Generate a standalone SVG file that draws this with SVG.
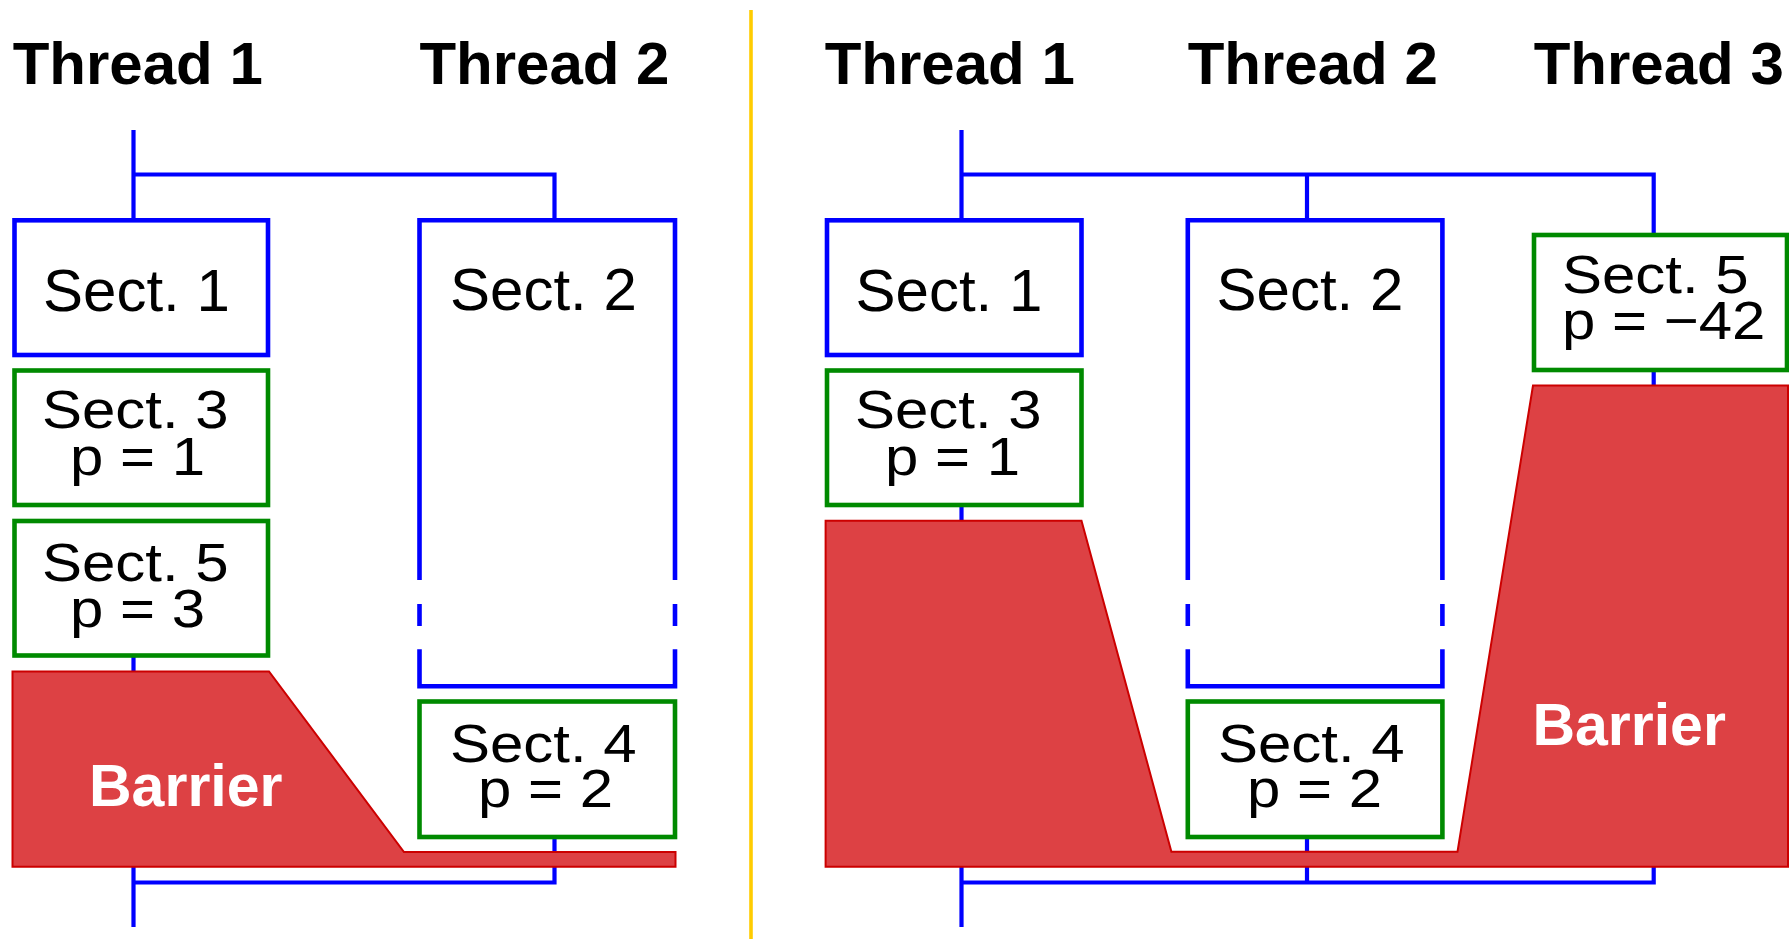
<svg xmlns="http://www.w3.org/2000/svg" width="1789" height="939" viewBox="0 0 1789 939">
<style>
.hdr{font-family:"Liberation Sans",Arial,sans-serif;font-weight:bold;font-size:60px;fill:#000}
.lbl{font-family:"Liberation Sans",Arial,sans-serif;font-size:60px;fill:#000}
.bar{font-family:"Liberation Sans",Arial,sans-serif;font-weight:bold;font-size:59px;fill:#fff}
.conn{fill:none;stroke:#0000FF;stroke-width:4.2}
.bbox{fill:#fff;stroke:#0000FF;stroke-width:4.6}
.bopen{fill:none;stroke:#0000FF;stroke-width:4.6}
.gbox{fill:#fff;stroke:#008A00;stroke-width:4.6}
.barrier{fill:#DD4144;stroke:#CC0000;stroke-width:2}
</style>
<rect width="1789" height="939" fill="#fff"/>
<line x1="751" y1="10" x2="751" y2="939" stroke="#FFCC00" stroke-width="3.6"/>

<g id="headers">
<text class="hdr" x="12.7" y="84">Thread 1</text>
<text class="hdr" x="419.4" y="84">Thread 2</text>
<text class="hdr" x="824.7" y="84">Thread 1</text>
<text class="hdr" x="1187.7" y="84">Thread 2</text>
<text class="hdr" x="1533.7" y="84">Thread 3</text>
</g>

<g id="connectors">
<path class="conn" d="M133.5,130 V220 M133.5,174.5 H554.5 V220"/>
<path class="conn" d="M133.5,655 V672"/>
<path class="conn" d="M133.5,866 V927 M133.5,882.5 H554.5 V837"/>
<path class="conn" d="M961.5,130 V220 M961.5,174.5 H1653.7 V235 M1307,174.5 V220"/>
<path class="conn" d="M961.5,505 V521"/>
<path class="conn" d="M1653.7,370 V386"/>
<path class="conn" d="M961.5,866 V927 M961.5,882.5 H1653.7 V866 M1307,837 V882.5"/>
</g>

<g id="barrier-left">
<polygon class="barrier" points="12.5,671.5 269,671.5 404,852 675.5,852 675.5,866.7 12.5,866.7"/>
<text class="bar" x="89" y="805.7">Barrier</text>
</g>

<g id="barrier-right">
<polygon class="barrier" points="825.6,520.7 1081.5,520.7 1171.4,851.7 1457.5,851.7 1533,385.5 1788,385.5 1788,866.7 825.6,866.7"/>
<text class="bar" x="1532.4" y="745">Barrier</text>
</g>

<g id="L-sect1">
<rect class="bbox" x="14.5" y="220.3" width="253.5" height="134.7"/>
<text class="lbl" x="43" y="311">Sect. 1</text>
</g>
<g id="L-sect2">
<path class="bopen" d="M419.5,580 V220.3 H675 V580"/>
<path class="bopen" d="M419.5,604 V626 M675,604 V626"/>
<path class="bopen" d="M419.5,649.3 V686.3 H675 V649.3"/>
<text class="lbl" x="450" y="310">Sect. 2</text>
</g>
<g id="L-sect3">
<rect class="gbox" x="14.5" y="370.5" width="253.5" height="134.5"/>
<text class="lbl" transform="translate(0,428.3) scale(1,0.9)"><tspan x="42" y="0">Sect. 3</tspan><tspan x="70" y="51.8">p = 1</tspan></text>
</g>
<g id="L-sect5">
<rect class="gbox" x="14.5" y="521" width="253.5" height="134.5"/>
<text class="lbl" transform="translate(0,580.5) scale(1,0.9)"><tspan x="42" y="0">Sect. 5</tspan><tspan x="70" y="51.8">p = 3</tspan></text>
</g>
<g id="L-sect4">
<rect class="gbox" x="419.5" y="701.5" width="255.5" height="135.5"/>
<text class="lbl" transform="translate(0,761.7) scale(1,0.9)"><tspan x="450" y="0">Sect. 4</tspan><tspan x="478" y="50.6">p = 2</tspan></text>
</g>

<g id="R-sect1">
<rect class="bbox" x="827" y="220.3" width="254.5" height="134.7"/>
<text class="lbl" x="855.5" y="310.5">Sect. 1</text>
</g>
<g id="R-sect2">
<path class="bopen" d="M1187.8,580 V220.3 H1442.4 V580"/>
<path class="bopen" d="M1187.8,604 V626 M1442.4,604 V626"/>
<path class="bopen" d="M1187.8,649.3 V686.3 H1442.4 V649.3"/>
<text class="lbl" x="1216.5" y="310">Sect. 2</text>
</g>
<g id="R-sect3">
<rect class="gbox" x="827" y="370.5" width="254.5" height="134.5"/>
<text class="lbl" transform="translate(0,428.3) scale(1,0.9)"><tspan x="855" y="0">Sect. 3</tspan><tspan x="885" y="51.8">p = 1</tspan></text>
</g>
<g id="R-sect5">
<rect class="gbox" x="1534" y="235" width="253" height="135"/>
<text class="lbl" transform="translate(0,293) scale(1,0.9)"><tspan x="1562" y="0">Sect. 5</tspan><tspan x="1562" y="51.1">p = −42</tspan></text>
</g>
<g id="R-sect4">
<rect class="gbox" x="1187.8" y="701.5" width="254.6" height="135.5"/>
<text class="lbl" transform="translate(0,761.7) scale(1,0.9)"><tspan x="1218" y="0">Sect. 4</tspan><tspan x="1247" y="50.6">p = 2</tspan></text>
</g>
</svg>
